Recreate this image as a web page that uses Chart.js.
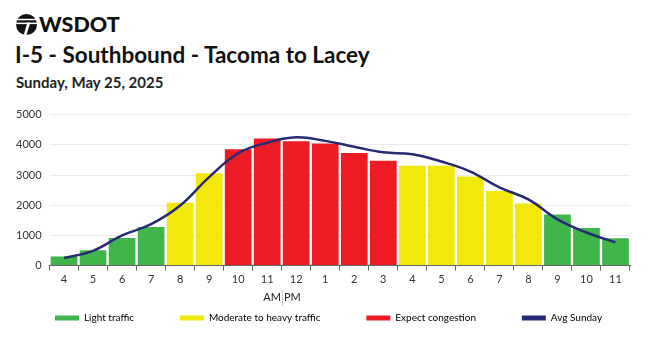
<!DOCTYPE html>
<html>
<head>
<meta charset="utf-8">
<script src="https://cdn.jsdelivr.net/npm/chart.js@4"></script>
<style>
  body { margin: 0; width: 650px; height: 337px; background: #fff; font-family: Lato, sans-serif; position: relative; overflow: hidden; }
  .brand { position: absolute; left: 16px; top: 13px; height: 22px; display: flex; align-items: center; }
  .brand span { font-weight: 900; font-size: 21.5px; color: #111; margin-left: 2px; }
  h1 { position: absolute; left: 15px; top: 41px; margin: 0; font-size: 22.5px; font-weight: 700; color: #111; }
  h2 { position: absolute; left: 16px; top: 73px; margin: 0; font-size: 15px; font-weight: 700; color: #222; }
  .wrap { position: absolute; left: 0; top: 100px; width: 650px; height: 237px; }
</style>
</head>
<body>
<div class="brand">
  <svg width="21" height="21" viewBox="0 0 22 22">
    <circle cx="11" cy="11" r="11" fill="#111"/>
    <rect x="0" y="5" width="22" height="1.6" fill="#fff"/>
    <rect x="0" y="9" width="22" height="1.6" fill="#fff"/>
    <path d="M12 9 L8 22 L11 22 L15 9 Z" fill="#fff"/>
  </svg>
  <span>WSDOT</span>
</div>
<h1>I-5 - Southbound - Tacoma to Lacey</h1>
<h2>Sunday, May 25, 2025</h2>
<div class="wrap"><canvas id="chart"></canvas></div>
<script>
const hours = ['4', '5', '6', '7', '8', '9', '10', '11', '12', '1', '2', '3', '4', '5', '6', '7', '8', '9', '10', '11'];
const volumes = [300, 510, 910, 1280, 2080, 3060, 3850, 4210, 4120, 4045, 3730, 3475, 3310, 3310, 2950, 2470, 2055, 1695, 1245, 905];
const avgSunday = [250, 490, 1000, 1370, 1990, 2930, 3720, 4070, 4250, 4130, 3935, 3750, 3685, 3445, 3115, 2590, 2190, 1530, 1095, 770];
const levels = ['light', 'light', 'light', 'light', 'moderate', 'moderate', 'heavy', 'heavy', 'heavy', 'heavy', 'heavy', 'heavy',
  'moderate', 'moderate', 'moderate', 'moderate', 'moderate', 'light', 'light', 'light'];
const yTicks = [0, 1000, 2000, 3000, 4000, 5000];

const colors = { light: '#3fb54a', moderate: '#f2e80c', heavy: '#ed1c24' };
const lineColor = '#262a75';
const legendNames = [
  ['Light traffic', colors.light],
  ['Moderate to heavy traffic', colors.moderate],
  ['Expect congestion', colors.heavy],
  ['Avg Sunday', lineColor]
];
// extra room between legend items without growing the legend's height
const gap = ' '.repeat(14);
const tail = ' '.repeat(7);

// AM|PM marker under the noon boundary
const ampm = {
  id: 'ampm',
  afterDraw(chart) {
    const x = chart.scales.x;
    const mid = Math.round((x.getPixelForValue(7) + x.getPixelForValue(8)) / 2);
    const y = chart.chartArea.bottom + 32;
    const c = chart.ctx;
    c.save();
    c.font = '11px Lato';
    c.fillStyle = '#222';
    c.textBaseline = 'middle';
    c.textAlign = 'right';
    c.fillText('AM', mid - 1, y);
    c.textAlign = 'left';
    c.fillText('PM', mid + 2, y);
    c.strokeStyle = '#999';
    c.lineWidth = 1;
    c.setLineDash([1, 1]);
    c.beginPath();
    c.moveTo(mid + 0.5, y - 7);
    c.lineTo(mid + 0.5, y + 8);
    c.stroke();
    c.restore();
  }
};

new Chart(document.getElementById('chart'), {
  data: {
    labels: hours,
    datasets: [
      {
        type: 'line',
        label: 'Avg Sunday',
        data: avgSunday,
        borderColor: lineColor,
        borderWidth: 2.5,
        pointRadius: 0,
        tension: 0.4,
        order: 0
      },
      {
        type: 'bar',
        label: 'Volume',
        data: volumes,
        backgroundColor: levels.map(l => colors[l]),
        barPercentage: 0.92,
        categoryPercentage: 1,
        order: 1
      }
    ]
  },
  options: {
    responsive: true,
    maintainAspectRatio: false,
    animation: false,
    layout: { padding: { left: 8, right: 20, top: 8, bottom: 4 } },
    plugins: {
      tooltip: { enabled: false },
      legend: {
        position: 'bottom',
        align: 'end',
        labels: {
          font: { family: 'Lato', size: 10 },
          color: '#333',
          boxWidth: 24,
          boxHeight: 5,
          padding: 10,
          generateLabels: () => legendNames.map(([text, c], i) => ({
            text: text + (i < legendNames.length - 1 ? gap : tail),
            fillStyle: c, strokeStyle: c, lineWidth: 0
          }))
        }
      }
    },
    scales: {
      x: {
        grid: { display: true, drawOnChartArea: false, offset: true, tickLength: 5, color: '#666' },
        border: { color: '#666', width: 1 },
        ticks: { font: { family: 'Lato', size: 11 }, color: '#333', padding: 2, maxRotation: 0 },
        title: { display: true, text: ' ', font: { size: 11 }, padding: { top: 1, bottom: 1 } }
      },
      y: {
        min: 0,
        max: 5000,
        afterBuildTicks: axis => { axis.ticks = yTicks.map(v => ({ value: v })); },
        grid: { color: '#ebebeb', drawTicks: false },
        border: { display: false },
        ticks: { font: { family: 'Lato', size: 11 }, color: '#333', padding: 8, callback: v => String(v) }
      }
    }
  },
  plugins: [ampm]
});
</script>
</body>
</html>
